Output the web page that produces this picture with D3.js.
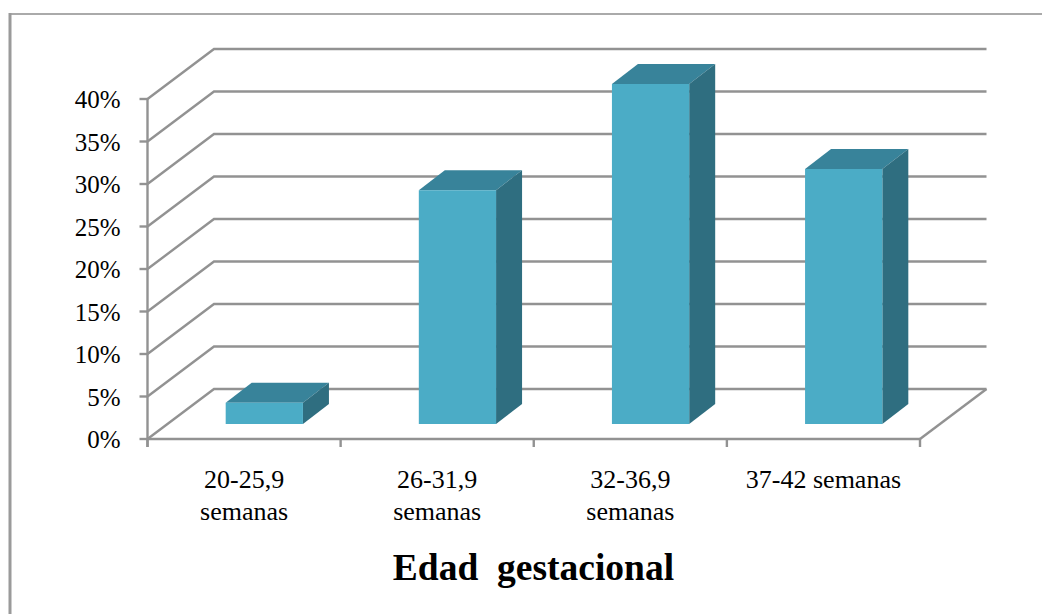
<!DOCTYPE html>
<html>
<head>
<meta charset="utf-8">
<script src="https://cdn.jsdelivr.net/npm/d3@7"></script>
<style>
  html, body { margin: 0; padding: 0; background: #fff; }
  svg { display: block; }
  text { font-family: "Liberation Serif", "Times New Roman", serif; fill: #000; }
</style>
</head>
<body>
<svg id="chart" width="1042" height="614"></svg>
<script>
// Share of cases by gestational age band
const categories = [["20-25,9", "semanas"], ["26-31,9", "semanas"], ["32-36,9", "semanas"], ["37-42 semanas"]];
const values = [2.5, 27.5, 40, 30];
const yTicks = [0, 5, 10, 15, 20, 25, 30, 35, 40];
const chartTitle = "Edad\u00a0\u00a0gestacional";

const svg = d3.select("#chart");
const plotLeft = 147.5, plotRight = 920, plotBottom = 439, plotTop = 99;

const x = d3.scaleBand().domain(d3.range(values.length)).range([plotLeft, plotRight])
  .paddingInner(0.6).paddingOuter(0.3);
const y = d3.scaleLinear().domain([0, 40]).range([plotBottom, plotTop]);

// Oblique projection: wall depth and bar depth
const wallDx = 66.5, wallDy = -50;
const barDx = 26, barDy = -20;
const barShiftX = (wallDx - barDx) / 2, barShiftY = (wallDy - barDy) / 2;

const gridColor = "#929292";
const gridWidth = 2.4;

// Outer frame, open at the right and bottom
svg.append("line").attr("x1", 9).attr("x2", 1042).attr("y1", 14).attr("y2", 14)
  .attr("stroke", "#8e8e8e").attr("stroke-width", 1.6);
svg.append("line").attr("x1", 10).attr("x2", 10).attr("y1", 13).attr("y2", 614)
  .attr("stroke", "#9a9a9a").attr("stroke-width", 3);

// Wall gridlines with their receding side segments
const grid = svg.append("g").attr("fill", "none").attr("stroke", gridColor).attr("stroke-width", gridWidth);
grid.selectAll("path").data(yTicks).join("path")
  .attr("d", d => d3.line()([[plotLeft, y(d)], [plotLeft + wallDx, y(d) + wallDy], [plotRight + wallDx, y(d) + wallDy]]));
// Floor edge on the right side
grid.append("path").attr("d", d3.line()([[plotRight, y(0)], [plotRight + wallDx, y(0) + wallDy]]));

// Axis lines and tick marks
const yAxis = d3.axisLeft(y).tickValues(yTicks).tickSize(8).tickPadding(19).offset(0).tickFormat(d => d + "%");
const yG = svg.append("g").attr("transform", `translate(${plotLeft},0)`).call(yAxis);
yG.select(".domain").remove();
yG.selectAll("line").attr("stroke", gridColor).attr("stroke-width", gridWidth);
yG.selectAll("text").attr("font-size", 25).attr("fill", "#000")
  .attr("font-family", "Liberation Serif").attr("dy", "0.36em");
svg.append("line").attr("x1", plotLeft).attr("x2", plotLeft).attr("y1", y(40) - 1).attr("y2", plotBottom + 8)
  .attr("stroke", gridColor).attr("stroke-width", gridWidth);
svg.append("line").attr("x1", plotLeft).attr("x2", plotRight).attr("y1", plotBottom).attr("y2", plotBottom)
  .attr("stroke", gridColor).attr("stroke-width", gridWidth);
const step = x.step();
svg.append("g").selectAll("line").data(d3.range(values.length + 1)).join("line")
  .attr("x1", i => plotLeft + i * step).attr("x2", i => plotLeft + i * step)
  .attr("y1", plotBottom).attr("y2", plotBottom + 8)
  .attr("stroke", gridColor).attr("stroke-width", gridWidth);

// 3D bars: top, side, then front face
const bars = svg.append("g").selectAll("g").data(values).join("g");
const fx = (d, i) => x(i) + barShiftX;
const fy = d => y(d) + barShiftY;
const fb = () => y(0) + barShiftY;
const w = x.bandwidth();
bars.append("path").attr("fill", "#38839a")
  .attr("d", (d, i) => d3.line()([[fx(d, i), fy(d)], [fx(d, i) + barDx, fy(d) + barDy],
    [fx(d, i) + w + barDx, fy(d) + barDy], [fx(d, i) + w, fy(d)]]) + "Z");
bars.append("path").attr("fill", "#2f6e80")
  .attr("d", (d, i) => d3.line()([[fx(d, i) + w, fy(d)], [fx(d, i) + w + barDx, fy(d) + barDy],
    [fx(d, i) + w + barDx, fb() + barDy], [fx(d, i) + w, fb()]]) + "Z");
bars.append("rect").attr("fill", "#4bacc6")
  .attr("x", fx).attr("y", fy).attr("width", w).attr("height", d => fb() - fy(d));

// Category labels
const labels = svg.append("g").selectAll("text").data(categories).join("text")
  .attr("text-anchor", "middle").attr("font-size", 26)
  .attr("transform", (d, i) => `translate(${x(i) + w / 2},0)`);
labels.selectAll("tspan").data(d => d).join("tspan")
  .attr("x", 0).attr("y", (d, i) => 488 + i * 32).text(d => d);

// Axis title
svg.append("text").attr("x", 533.5).attr("y", 580).attr("text-anchor", "middle")
  .attr("font-size", 37.5).attr("font-weight", "bold").text(chartTitle);
</script>
</body>
</html>
